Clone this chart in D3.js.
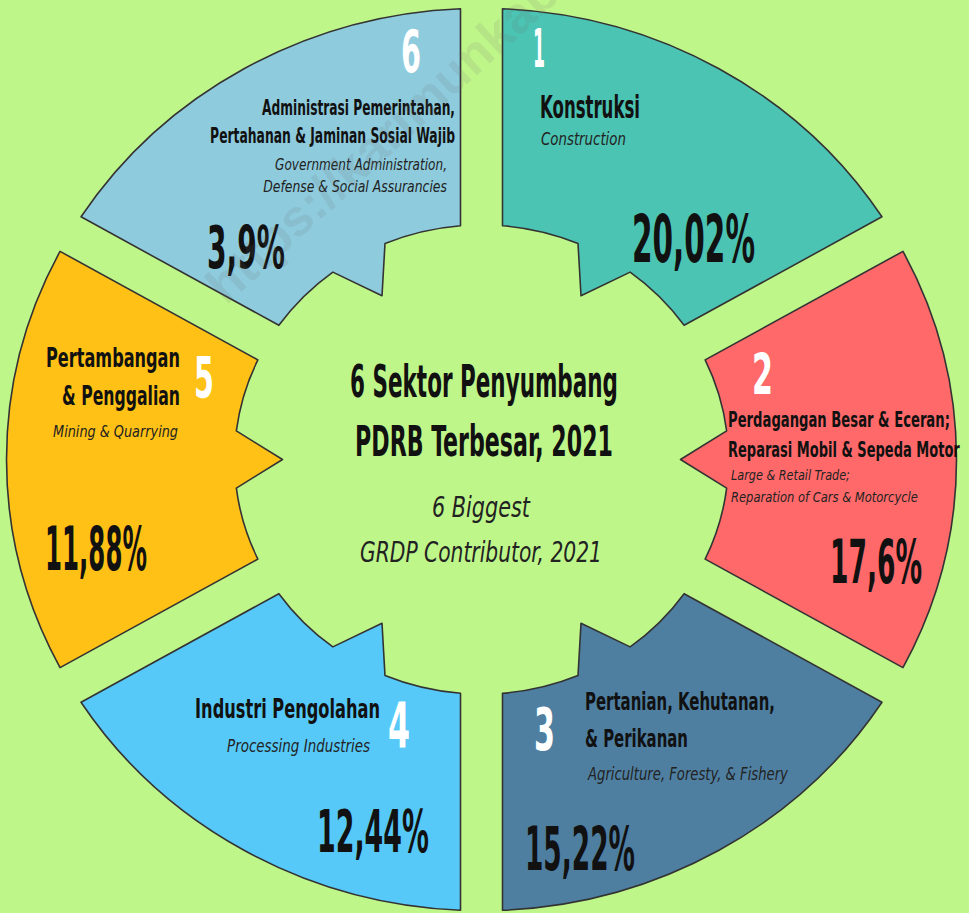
<!DOCTYPE html>
<html><head><meta charset="utf-8">
<script src="https://cdn.jsdelivr.net/npm/d3@7"></script>
<style>html,body{margin:0;padding:0;background:#bff68a;} svg{display:block}</style>
</head><body><svg id="c" width="969" height="913"></svg>
<script>
// ---------- data ----------
const ranks = [1, 2, 3, 4, 5, 6];
const sectorsId = [
  ["Konstruksi"],
  ["Perdagangan Besar & Eceran;", "Reparasi Mobil & Sepeda Motor"],
  ["Pertanian, Kehutanan,", "& Perikanan"],
  ["Industri Pengolahan"],
  ["Pertambangan", "& Penggalian"],
  ["Administrasi Pemerintahan,", "Pertahanan & Jaminan Sosial Wajib"]
];
const sectorsEn = [
  ["Construction"],
  ["Large & Retail Trade;", "Reparation of Cars & Motorcycle"],
  ["Agriculture, Foresty, & Fishery"],
  ["Processing Industries"],
  ["Mining & Quarrying"],
  ["Government Administration,", "Defense & Social Assurancies"]
];
const shares = ["20,02%", "17,6%", "15,22%", "12,44%", "11,88%", "3,9%"];
const titleId = ["6 Sektor Penyumbang", "PDRB Terbesar, 2021"];
const titleEn = ["6 Biggest", "GRDP Contributor, 2021"];
const watermark = "https://karimunkab.bps.go.id";

// ---------- styles / layout ----------
const colors = ["#4cc4b3", "#ff6969", "#4e7fa1", "#56c9f8", "#ffc115", "#8ecbdd"];
const FONT = "'Liberation Sans Narrow','DejaVu Sans Condensed','Roboto',sans-serif";
const layout = [
  { num:{x:539,y:67,fs:54,w:12},   id:{x:540,y:[118],fs:32,w:[100],a:"start"}, en:{x:541,y:[145],fs:18,w:[85],a:"start"}, pct:{x:632,y:262,fs:65,w:123} },
  { num:{x:762.5,y:395,fs:57,w:21}, id:{x:728,y:[427,457],fs:21,w:[222,232],a:"start"}, en:{x:731,y:[480,502],fs:14,w:[119,187],a:"start"}, pct:{x:830,y:583,fs:60,w:92} },
  { num:{x:544.5,y:750,fs:58,w:21}, id:{x:585,y:[710,747],fs:25,w:[190,103],a:"start"}, en:{x:588,y:[780],fs:17,w:[200],a:"start"}, pct:{x:525,y:870,fs:60,w:110} },
  { num:{x:399,y:747,fs:62,w:22},   id:{x:380,y:[718],fs:26,w:[185],a:"end"}, en:{x:370,y:[752],fs:18,w:[143],a:"end"}, pct:{x:317,y:852,fs:59,w:112} },
  { num:{x:204,y:398,fs:57,w:20},   id:{x:180,y:[367,405],fs:26,w:[134,118],a:"end"}, en:{x:178,y:[437],fs:16,w:[125],a:"end"}, pct:{x:45,y:570,fs:60,w:102} },
  { num:{x:411,y:72,fs:58,w:20},    id:{x:455,y:[115,143],fs:21,w:[193,245],a:"end"}, en:{x:447,y:[170,192],fs:15,w:[172,184],a:"end"}, pct:{x:207,y:268,fs:59,w:78} }
];

const W = 969, H = 913;
const cx = 481.5, cy = 459.5, squash = 0.95;
const R = 475, rIn = 247, rTip = 199, halfGap = 21, notch = 7 * Math.PI / 180;

const svg = d3.select("#c");
svg.append("rect").attr("width", W).attr("height", H).attr("fill", "#bff68a");

const angle = d3.scaleLinear().domain([0, ranks.length]).range([0, 2 * Math.PI]);

function segPath(i) {
  const a0 = angle(i), a1 = angle(i + 1), m = (a0 + a1) / 2;
  const pt = (r, t) => [r * Math.sin(t), -r * Math.cos(t)];
  const toM = t => t - Math.PI / 2;
  const oS = a0 + Math.asin(halfGap / R), oE = a1 - Math.asin(halfGap / R);
  const iS = a0 + Math.asin(halfGap / rIn), iE = a1 - Math.asin(halfGap / rIn);
  const p = d3.path();
  p.moveTo(...pt(R, oS));
  p.arc(0, 0, R, toM(oS), toM(oE), false);
  p.lineTo(...pt(rIn, iE));
  p.arc(0, 0, rIn, toM(iE), toM(m + notch), true);
  p.lineTo(...pt(rTip, m));
  p.lineTo(...pt(rIn, m - notch));
  p.arc(0, 0, rIn, toM(m - notch), toM(iS), true);
  p.closePath();
  return p.toString();
}

const g = svg.append("g").attr("transform", `translate(${cx},${cy}) scale(1,${squash})`);
g.selectAll("path.seg").data(ranks).join("path")
  .attr("class", "seg")
  .attr("d", (d, i) => segPath(i))
  .attr("fill", (d, i) => colors[i])
  .attr("stroke", "#333")
  .attr("stroke-width", 1.6)
  .attr("stroke-linejoin", "round")
  .attr("vector-effect", "non-scaling-stroke");

// text drawn at its natural size, then squeezed horizontally to the reference width
function txt(str, x, y, fs, w, opt) {
  const t = svg.append("text")
    .attr("x", 0).attr("y", 0)
    .attr("font-family", FONT)
    .attr("font-size", fs)
    .attr("font-weight", opt.weight || 700)
    .attr("font-style", opt.italic ? "italic" : "normal")
    .attr("fill", opt.fill || "#111")
    .attr("text-anchor", opt.anchor || "start")
    .text(str);
  const nat = t.node().getComputedTextLength() || 1;
  const sx = w ? w / nat : 1;
  t.attr("transform", `translate(${x},${y}) scale(${sx},1)`);
  return t;
}

ranks.forEach((r, i) => {
  const L = layout[i];
  txt(String(r), L.num.x, L.num.y, L.num.fs, L.num.w, { fill: "#ffffff", anchor: "middle" });
  sectorsId[i].forEach((s, j) => txt(s, L.id.x, L.id.y[j], L.id.fs, L.id.w[j], { anchor: L.id.a }));
  sectorsEn[i].forEach((s, j) => txt(s, L.en.x, L.en.y[j], L.en.fs, L.en.w[j], { anchor: L.en.a, italic: true, weight: 400, fill: "#222" }));
  txt(shares[i], L.pct.x, L.pct.y, L.pct.fs, L.pct.w, { anchor: "start" });
});

// centre title
txt(titleId[0], 484, 397, 44, 268, { anchor: "middle" });
txt(titleId[1], 484, 456, 43, 258, { anchor: "middle" });
txt(titleEn[0], 481, 517, 28, 98, { anchor: "middle", italic: true, weight: 400, fill: "#222" });
txt(titleEn[1], 481, 562, 28, 242, { anchor: "middle", italic: true, weight: 400, fill: "#222" });

// watermark
svg.append("text")
  .attr("transform", "translate(226,306) rotate(-42.6)")
  .attr("font-family", "'Liberation Sans','Roboto',sans-serif")
  .attr("font-size", 51).attr("font-weight", 700)
  .attr("fill", "#6a6a6a").attr("fill-opacity", 0.13)
  .text(watermark);
</script></body></html>
